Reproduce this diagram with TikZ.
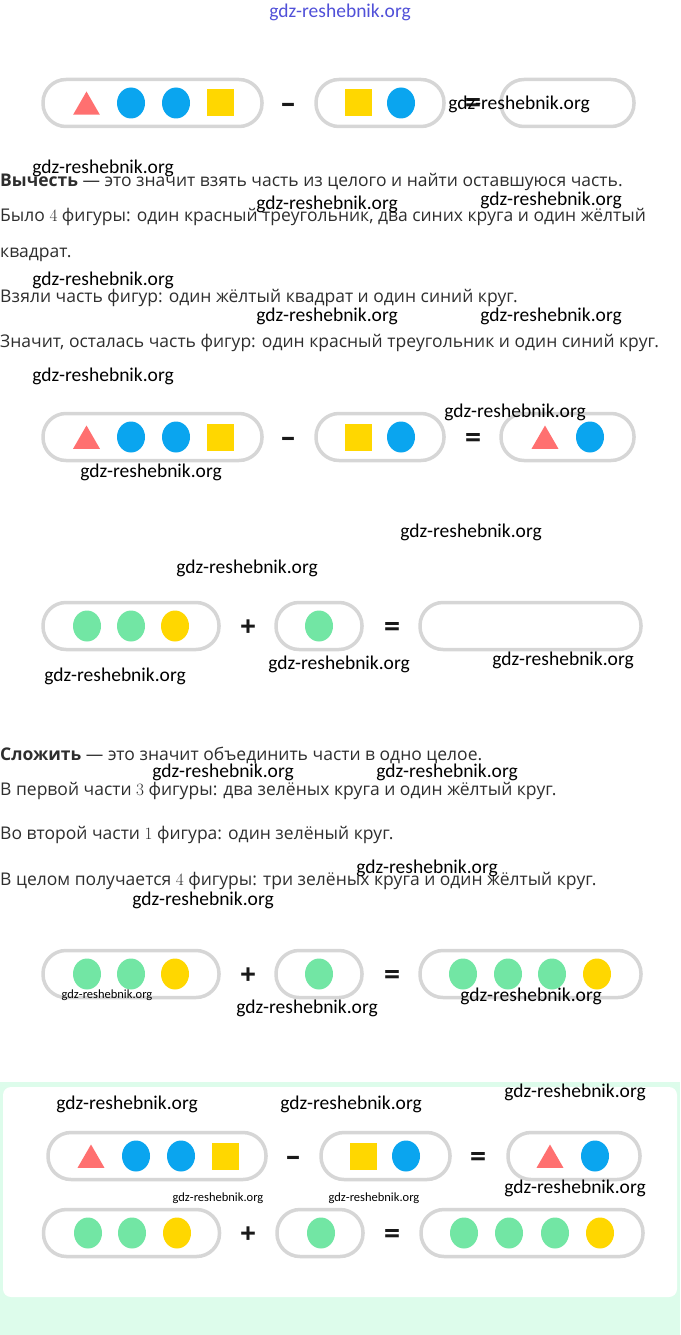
\documentclass[tikz,border=0pt]{standalone}
\usepackage{fontspec}
\setmainfont{Open Sans}
\newfontfamily\wmfont{Carlito}
\usepackage{xcolor}
\usepackage{tikz}
\usetikzlibrary{shapes.geometric, positioning}

\definecolor{pillgray}{HTML}{D6D6D6}
\definecolor{trired}{HTML}{FF7070}
\definecolor{dotblue}{HTML}{0AA5EF}
\definecolor{dotgreen}{HTML}{72E6A4}
\definecolor{sqyellow}{HTML}{FFD700}
\definecolor{textgray}{HTML}{2E2E2E}
\definecolor{mint}{HTML}{DDFCEB}
\definecolor{wmblue}{HTML}{5050D8}

\tikzset{
  pill/.style={rectangle, draw=pillgray, line width=3.5pt, rounded corners=23pt,
               minimum height=47pt, inner sep=0pt},
  redtri/.style={regular polygon, regular polygon sides=3, fill=trired,
                 inner sep=0pt, minimum size=31pt},
  dot/.style={ellipse, inner sep=0pt, minimum width=28pt, minimum height=31pt},
  bluedot/.style={dot, fill=dotblue},
  greendot/.style={dot, fill=dotgreen},
  yellowdot/.style={dot, fill=sqyellow},
  yellowsq/.style={rectangle, fill=sqyellow, inner sep=0pt,
                   minimum width=27pt, minimum height=27pt},
  opsign/.style={font=\fontsize{28}{28}\selectfont\bfseries, text=black!90, inner sep=0pt},
  bodyline/.style={anchor=base west, inner sep=0pt,
                   font=\fontsize{17.5}{20}\selectfont, text=textgray},
  wmark/.style={font=\wmfont\fontsize{19.5}{22}\selectfont, text=black, inner sep=0pt},
  smallwmark/.style={wmark, font=\wmfont\fontsize{12.5}{14}\selectfont},
}

\begin{document}
\begin{tikzpicture}[x=1pt, y=-1pt]
  \useasboundingbox (0,0) rectangle (680,1335);

  % --- bottom summary panel ---
  \fill[mint] (0,1082) rectangle (680,1335);
  \fill[white, rounded corners=8pt] (3,1087) rectangle (677,1297);

  % --- row 1: subtraction, empty result ---
  \node[pill, minimum width=219pt] (s1a) at (152.5,103) {};
  \node[pill, minimum width=128pt] (s1b) at (380,103) {};
  \node[pill, minimum width=133pt] (s1c) at (567.5,103) {};
  \node[redtri] (s1t) at (86.5,107) {};
  \node[bluedot] (s1d1) at (131,103) {};
  \node[bluedot] (s1d2) at (176,103) {};
  \node[yellowsq] (s1q) at (220.5,103) {};
  \node[yellowsq] (s1q2) at (358.5,103) {};
  \node[bluedot] (s1d3) at (401,103) {};
  \node[opsign] (s1m) at (288,108) {–};
  \node[opsign] (s1e) at (473,106) {=};

  % --- explanation: subtraction ---
  \node[bodyline] (t1) at (0,186) {\textbf{Вычесть} — это значит взять часть из целого и найти оставшуюся часть.};
  \node[bodyline] (t2) at (0,221) {Было $4$ фигуры: один красный треугольник, два синих круга и один жёлтый};
  \node[bodyline] (t3) at (0,257) {квадрат.};
  \node[bodyline] (t4) at (0,302) {Взяли часть фигур: один жёлтый квадрат и один синий круг.};
  \node[bodyline] (t5) at (0,347) {Значит, осталась часть фигур: один красный треугольник и один синий круг.};

  % --- row 2: subtraction, solved ---
  \node[pill, minimum width=219pt] (s2a) at (152.5,437) {};
  \node[pill, minimum width=128pt] (s2b) at (380,437) {};
  \node[pill, minimum width=133pt] (s2c) at (567.5,437) {};
  \node[redtri] (s2t) at (86.5,441) {};
  \node[bluedot] (s2d1) at (131,437) {};
  \node[bluedot] (s2d2) at (176,437) {};
  \node[yellowsq] (s2q) at (220.5,437) {};
  \node[yellowsq] (s2q2) at (358.5,437) {};
  \node[bluedot] (s2d3) at (401,437) {};
  \node[redtri] (s2t2) at (545,441) {};
  \node[bluedot] (s2d4) at (590,437) {};
  \node[opsign] (s2m) at (288,442) {–};
  \node[opsign] (s2e) at (473,440) {=};

  % --- row 3: addition, empty result ---
  \node[pill, minimum width=176pt] (a1a) at (131,626) {};
  \node[pill, minimum width=86pt] (a1b) at (319,626) {};
  \node[pill, minimum width=221pt] (a1c) at (530.5,626) {};
  \node[greendot] (a1g1) at (87,626) {};
  \node[greendot] (a1g2) at (131,626) {};
  \node[yellowdot] (a1y) at (175,626) {};
  \node[greendot] (a1g3) at (319,626) {};
  \node[opsign] (a1p) at (248,628) {+};
  \node[opsign] (a1e) at (392,629) {=};

  % --- explanation: addition ---
  \node[bodyline] (t6) at (0,760) {\textbf{Сложить} — это значит объединить части в одно целое.};
  \node[bodyline] (t7) at (0,795) {В первой части $3$ фигуры: два зелёных круга и один жёлтый круг.};
  \node[bodyline] (t8) at (0,839) {Во второй части $1$ фигура: один зелёный круг.};
  \node[bodyline] (t9) at (0,885) {В целом получается $4$ фигуры: три зелёных круга и один жёлтый круг.};

  % --- row 4: addition, solved ---
  \node[pill, minimum width=176pt] (a2a) at (131,974) {};
  \node[pill, minimum width=86pt] (a2b) at (319,974) {};
  \node[pill, minimum width=221pt] (a2c) at (530.5,974) {};
  \node[greendot] (a2g1) at (87,974) {};
  \node[greendot] (a2g2) at (131,974) {};
  \node[yellowdot] (a2y) at (175,974) {};
  \node[greendot] (a2g3) at (319,974) {};
  \node[greendot] (a2g4) at (463,974) {};
  \node[greendot] (a2g5) at (508,974) {};
  \node[greendot] (a2g6) at (552,974) {};
  \node[yellowdot] (a2y2) at (597,974) {};
  \node[opsign] (a2p) at (248,976) {+};
  \node[opsign] (a2e) at (392,977) {=};

  % --- panel: both equations ---
  \node[pill, minimum width=218pt] (p1a) at (157,1156) {};
  \node[pill, minimum width=129pt] (p1b) at (385.5,1156) {};
  \node[pill, minimum width=132pt] (p1c) at (574,1156) {};
  \node[redtri] (p1t) at (91,1160) {};
  \node[bluedot] (p1d1) at (136,1156) {};
  \node[bluedot] (p1d2) at (181,1156) {};
  \node[yellowsq] (p1q) at (225,1156) {};
  \node[yellowsq] (p1q2) at (363,1156) {};
  \node[bluedot] (p1d3) at (406,1156) {};
  \node[redtri] (p1t2) at (550,1160) {};
  \node[bluedot] (p1d4) at (595,1156) {};
  \node[opsign] (p1m) at (293,1161) {–};
  \node[opsign] (p1e) at (478,1159) {=};

  \node[pill, minimum width=176pt] (p2a) at (131.5,1233) {};
  \node[pill, minimum width=86pt] (p2b) at (320,1233) {};
  \node[pill, minimum width=222pt] (p2c) at (532,1233) {};
  \node[greendot] (p2g1) at (88,1233) {};
  \node[greendot] (p2g2) at (132,1233) {};
  \node[yellowdot] (p2y) at (177,1233) {};
  \node[greendot] (p2g3) at (321,1233) {};
  \node[greendot] (p2g4) at (464,1233) {};
  \node[greendot] (p2g5) at (509,1233) {};
  \node[greendot] (p2g6) at (555,1233) {};
  \node[yellowdot] (p2y2) at (600,1233) {};
  \node[opsign] (p2p) at (248,1235) {+};
  \node[opsign] (p2e) at (392,1236) {=};

  % --- watermarks ---
  \node[wmark, text=wmblue] (wm0) at (340,12) {gdz-reshebnik.org};
  \foreach \wx/\wy [count=\i] in {519/104, 103/168, 327/204, 551/200, 103/280,
      327/316, 551/316, 103/376, 515/412, 151/472, 471/532, 247/568, 339/664,
      563/660, 115/676, 223/772, 447/772, 427/868, 203/900, 531/996, 307/1008,
      127/1104, 351/1104, 575/1092, 575/1188}
    \node[wmark] (wm\i) at (\wx,\wy) {gdz-reshebnik.org};
  \node[smallwmark] (wms1) at (107,995) {gdz-reshebnik.org};
  \node[smallwmark] (wms2) at (218,1198) {gdz-reshebnik.org};
  \node[smallwmark] (wms3) at (374,1198) {gdz-reshebnik.org};
\end{tikzpicture}
\end{document}
